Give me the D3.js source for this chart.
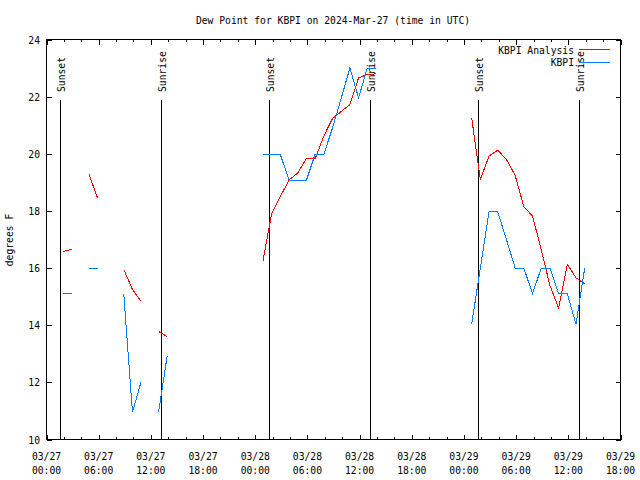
<!DOCTYPE html>
<html><head><meta charset="utf-8">
<script src="https://cdn.jsdelivr.net/npm/d3@7"></script>
<style>
body{margin:0;background:#fff}
svg{display:block}
text{font-family:"DejaVu Sans Mono",monospace;font-size:9.7px;fill:#000}
</style>
</head><body><svg id="c" width="640" height="480"></svg>
<script>
const title = "Dew Point for KBPI on 2024-Mar-27 (time in UTC)";
const yLabel = "degrees F";
const xStart = "2024-03-27 00:00", xEnd = "2024-03-29 18:00";
const xTicks = ["2024-03-27 00:00","2024-03-27 06:00","2024-03-27 12:00","2024-03-27 18:00",
  "2024-03-28 00:00","2024-03-28 06:00","2024-03-28 12:00","2024-03-28 18:00",
  "2024-03-29 00:00","2024-03-29 06:00","2024-03-29 12:00","2024-03-29 18:00"];
const yTicks = [10,12,14,16,18,20,22,24];
const seriesNames = ["KBPI Analysis","KBPI"];
const obsTimes = [
  "2024-03-27 01:53","2024-03-27 02:53","2024-03-27 03:53","2024-03-27 04:53","2024-03-27 05:53","2024-03-27 06:53",
  "2024-03-27 08:53","2024-03-27 09:53","2024-03-27 10:53","2024-03-27 11:53","2024-03-27 12:53","2024-03-27 13:53","2024-03-27 14:53",
  "2024-03-28 00:53","2024-03-28 01:53","2024-03-28 02:53","2024-03-28 03:53","2024-03-28 04:53","2024-03-28 05:53","2024-03-28 06:53",
  "2024-03-28 07:53","2024-03-28 08:53","2024-03-28 09:53","2024-03-28 10:53","2024-03-28 11:53","2024-03-28 12:53","2024-03-28 13:53","2024-03-28 14:53",
  "2024-03-29 00:53","2024-03-29 01:53","2024-03-29 02:53","2024-03-29 03:53","2024-03-29 04:53","2024-03-29 05:53","2024-03-29 06:53",
  "2024-03-29 07:53","2024-03-29 08:53","2024-03-29 09:53","2024-03-29 10:53","2024-03-29 11:53","2024-03-29 12:53","2024-03-29 13:53"];
const analysis = [16.58,16.65,null,19.28,18.44,null,15.95,15.25,14.83,null,13.78,13.60,null,
  16.24,17.90,18.50,19.08,19.33,19.83,19.82,20.62,21.23,21.48,21.72,22.66,22.77,22.80,null,
  21.26,19.10,19.92,20.13,19.80,19.25,18.15,17.82,16.65,15.39,14.60,16.13,15.66,15.45];
const kbpi = [15.10,15.10,null,16.00,16.00,null,15.10,10.95,12.03,null,10.95,12.94,null,
  19.98,19.98,19.98,19.07,19.07,19.07,19.98,19.98,20.90,21.94,23.00,21.96,23.00,23.00,null,
  14.03,16.00,17.97,17.97,17.00,16.00,16.00,15.10,16.00,16.00,15.10,15.10,14.03,16.00];
const sunTimes = ["2024-03-27 01:35","2024-03-27 13:11","2024-03-28 01:35","2024-03-28 13:11","2024-03-29 01:35","2024-03-29 13:11"];
const sunLabels = ["Sunset","Sunrise","Sunset","Sunrise","Sunset","Sunrise"];
const colors = ["#ff0000","#0080ff"];

const L=46.5, R=620.5, T=39.5, B=439.5;
const parse = d3.utcParse("%Y-%m-%d %H:%M");
const svg = d3.select("#c");
const x = d3.scaleUtc().domain([parse(xStart), parse(xEnd)]).range([L,R]);
const y = d3.scaleLinear().domain([10,24]).range([B,T]);

const minor = d3.utcHour.every(2).range(parse(xStart), parse(xEnd));
const major = xTicks.map(parse);
[B, T].forEach((yy,i)=>{
  svg.append("g").attr("transform",`translate(0,${yy})`)
    .call((i==0?d3.axisBottom(x):d3.axisTop(x)).tickValues(minor).tickSizeInner(-2.5).tickSizeOuter(0).tickFormat(""))
    .call(g=>g.select(".domain").remove())
    .attr("shape-rendering","crispEdges");
  svg.append("g").attr("transform",`translate(0,${yy})`)
    .call((i==0?d3.axisBottom(x):d3.axisTop(x)).tickValues(major).tickSizeInner(-5).tickSizeOuter(0).tickFormat(""))
    .call(g=>g.select(".domain").remove())
    .attr("shape-rendering","crispEdges");
});
[L, R].forEach((xx,i)=>{
  svg.append("g").attr("transform",`translate(${xx},0)`)
    .call((i==0?d3.axisLeft(y):d3.axisRight(y)).tickValues(yTicks).tickSizeInner(-5).tickSizeOuter(0).tickFormat(""))
    .call(g=>g.select(".domain").remove())
    .attr("shape-rendering","crispEdges");
});
svg.selectAll(".tick line").attr("stroke","#000");

const fD = d3.utcFormat("%m/%d"), fT = d3.utcFormat("%H:%M");
const xl = svg.append("g");
major.forEach(d=>{
  const t = xl.append("text").attr("text-anchor","middle");
  t.append("tspan").attr("x",x(d)).attr("y",459.5).text(fD(d));
  t.append("tspan").attr("x",x(d)).attr("y",473.5).text(fT(d));
});
svg.append("g").selectAll("text").data(yTicks).join("text")
  .attr("x",40).attr("y",d=>y(d)+4).attr("text-anchor","end").text(d=>d);

svg.append("rect").attr("x",L).attr("y",T).attr("width",R-L).attr("height",B-T)
  .attr("fill","none").attr("stroke","#000").attr("shape-rendering","crispEdges");

svg.append("text").attr("x",333).attr("y",23.5).attr("text-anchor","middle").text(title);
svg.append("text").attr("transform","translate(13,240) rotate(-90)").attr("text-anchor","middle").text(yLabel);

const sun = svg.append("g");
sunTimes.forEach((s,i)=>{
  const xx = Math.round(x(parse(s)))+0.5;
  sun.append("line").attr("x1",xx).attr("x2",xx).attr("y1",99.5).attr("y2",B)
    .attr("stroke","#000").attr("shape-rendering","crispEdges");
  sun.append("text").attr("transform",`translate(${xx+4},92) rotate(-90)`).text(sunLabels[i]);
});

const times = obsTimes.map(parse);
const line = d3.line().defined(d=>d[1]!=null).x(d=>x(d[0])).y(d=>y(d[1]));
[analysis, kbpi].forEach((vals,i)=>{
  svg.append("path").datum(times.map((t,j)=>[t,vals[j]]))
    .attr("d",line).attr("fill","none").attr("stroke",colors[i]).attr("stroke-width",1)
    .attr("shape-rendering","crispEdges");
});

const lg = svg.append("g");
seriesNames.forEach((n,i)=>{
  const yy = 50 + i*12.5;
  lg.append("text").attr("x",574).attr("y",yy+3.5).attr("text-anchor","end").text(n);
  lg.append("line").attr("x1",579).attr("x2",610).attr("y1",yy-0.5).attr("y2",yy-0.5)
    .attr("stroke",colors[i]).attr("shape-rendering","crispEdges");
});
</script></body></html>
